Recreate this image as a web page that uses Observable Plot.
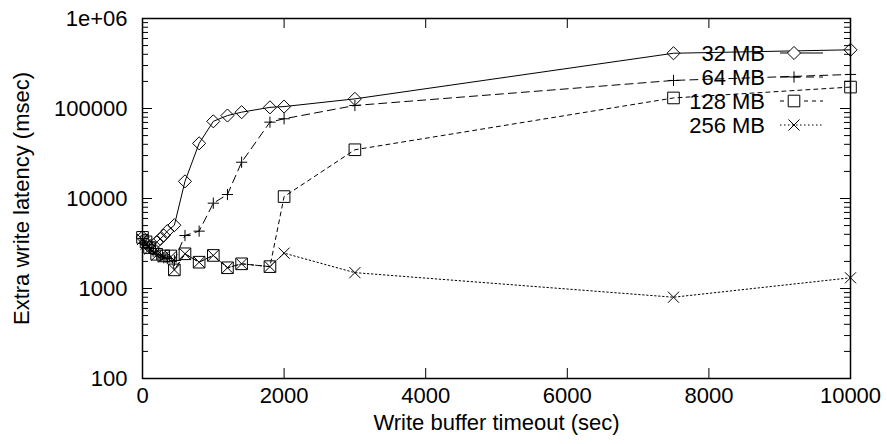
<!DOCTYPE html>
<html><head><meta charset="utf-8">
<script src="https://cdn.jsdelivr.net/npm/d3@7"></script>
<script src="https://cdn.jsdelivr.net/npm/@observablehq/plot@0.6"></script>
<style>body{margin:0;background:#fff}#chart{position:relative;width:887px;height:444px}</style>
</head><body><div id="chart"></div>
<script>
const seriesNames = ["32 MB", "64 MB", "128 MB", "256 MB"];
const x32 = [0,50,100,150,200,250,300,350,450,600,800,1000,1200,1400,1800,2000,3000,7500,10000];
const y32 = [3700,3200,2900,2800,3270,3560,3880,4340,5050,15500,41000,72000,83500,91000,103000,105000,128000,411000,449000];
const x64 = [0,50,100,150,200,250,300,350,450,600,800,1000,1200,1400,1800,2000,3000,7500,10000];
const y64 = [3600,3100,2800,2600,2400,2300,2200,2150,2050,3880,4340,8870,11070,25300,70500,76900,108000,205000,239000];
const x128 = [0,50,100,200,300,400,450,600,800,1000,1200,1400,1800,2000,3000,7500,10000];
const y128 = [3700,3300,2850,2400,2300,2300,1610,2430,1960,2330,1700,1880,1750,10500,34800,131000,173000];
const x256 = [0,50,100,200,300,400,450,600,800,1000,1200,1400,1800,2000,3000,7500,10000];
const y256 = [3500,3100,2750,2350,2250,2250,1610,2430,1960,2330,1700,1880,1750,2470,1500,800,1315];
const xTicks = [0,2000,4000,6000,8000,10000];
const yTicks = [100,1000,10000,100000,1000000];
const yTickLabels = ["100","1000","10000","100000","1e+06"];
const xLabel = "Write buffer timeout (sec)";
const yLabel = "Extra write latency (msec)";

const symbols = ["diamond2","plus","square2","times"];
const symR = [5.9, 3.7, 7.4, 5.1];
const dashes = [null,"8,5","4,4","1.5,2.5"];
const xsAll = [x32,x64,x128,x256], ysAll = [y32,y64,y128,y256];
const series = seriesNames.map((name,i)=>xsAll[i].map((x,j)=>({x, y: ysAll[i][j], name})));
const yMinor = [];
for (let e = 2; e < 6; e++) for (let m = 2; m < 10; m++) yMinor.push(m * 10 ** e);

const W = 887, H = 444, mL = 142, mR = 37, mT = 18, mB = 66;
const fw = W - mL - mR, fh = H - mT - mB;
const font = "'Liberation Sans', Arial, Helvetica, sans-serif";
const fs = 22;
const TL = 10, tl = 6;

const marks = [];
series.forEach((d,i)=>{
  marks.push(Plot.line(d, {x:"x", y:"y", stroke:"black", strokeWidth:1, strokeDasharray: dashes[i]}));
});
series.forEach((d,i)=>{
  marks.push(Plot.dot(d, {x:"x", y:"y", symbol: ()=>symbols[i], r: symR[i], stroke:"black", strokeWidth:1, fill:"none"}));
});
marks.push(
  Plot.tickX(xTicks, {x: d=>d, insetTop: fh-TL, stroke:"black", strokeWidth:1}),
  Plot.tickX(xTicks, {x: d=>d, insetBottom: fh-TL, stroke:"black", strokeWidth:1}),
  Plot.tickY(yTicks, {y: d=>d, insetRight: fw-TL, stroke:"black", strokeWidth:1}),
  Plot.tickY(yTicks, {y: d=>d, insetLeft: fw-TL, stroke:"black", strokeWidth:1}),
  Plot.tickY(yMinor, {y: d=>d, insetRight: fw-tl, stroke:"black", strokeWidth:1}),
  Plot.tickY(yMinor, {y: d=>d, insetLeft: fw-tl, stroke:"black", strokeWidth:1}),
  Plot.axisX({ticks: xTicks, tickSize: 0, tickPadding: 9, tickFormat: d=>String(d), label: null, fontSize: fs}),
  Plot.axisY({ticks: yTicks, tickSize: 0, tickPadding: 15, tickFormat: d=>yTickLabels[yTicks.indexOf(d)], label: null, fontSize: fs}),
  Plot.text([xLabel], {frameAnchor:"bottom", text: d=>d, dy: 51, fontSize: fs, fill:"black"}),
  Plot.text([yLabel], {frameAnchor:"left", text: d=>d, rotate: -90, textAnchor: "middle", dx: -121, fontSize: fs, fill:"black"}),
  Plot.frame({stroke:"black", strokeWidth:1.5})
);

const chart = Plot.plot({
  width: W, height: H, marginLeft: mL, marginRight: mR, marginTop: mT, marginBottom: mB,
  style: {fontFamily: font, fontSize: fs + "px", color: "black", background: "white"},
  x: {domain: [0, 10000]},
  y: {type: "log", domain: [100, 1e6]},
  marks
});
document.getElementById("chart").appendChild(chart);

// legend overlay (gnuplot key, drawn over the data)
const svg = d3.select(chart);
const g = svg.append("g").attr("font-family", font).attr("font-size", fs);
const rowY = [53, 77, 101, 125];
const symMap = {diamond2: d3.symbolDiamond2, plus: d3.symbolPlus, square2: d3.symbolSquare2, times: d3.symbolTimes};
seriesNames.forEach((name,i)=>{
  const y = rowY[i];
  g.append("text").attr("x", 765).attr("y", y).attr("dy", "0.35em").attr("text-anchor","end").attr("fill","black").text(name);
  g.append("line").attr("x1",780).attr("x2",823).attr("y1",y).attr("y2",y).attr("stroke","black").attr("stroke-width",1).attr("stroke-dasharray", dashes[i]);
  g.append("path").attr("d", d3.symbol(symMap[symbols[i]], Math.PI*symR[i]*symR[i])()).attr("transform",`translate(794,${y})`).attr("fill","white").attr("stroke","black");
});
</script>
</body></html>
